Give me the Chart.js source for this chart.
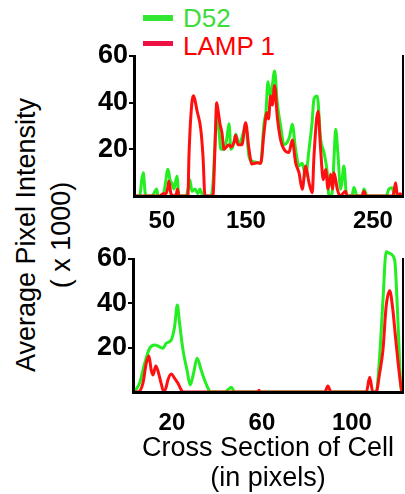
<!DOCTYPE html>
<html><head><meta charset="utf-8">
<script src="https://cdn.jsdelivr.net/npm/chart.js@4.4.1/dist/chart.umd.min.js"></script>
<style>
html,body{margin:0;padding:0;background:#fff;width:405px;height:494px;overflow:hidden;position:relative;font-family:"Liberation Sans",Arial,sans-serif;}
#c1{position:absolute;left:0;top:0;}
#c2{position:absolute;left:0;top:240px;}
.lg-line{position:absolute;left:143px;width:30px;}
.lg-text{position:absolute;left:183px;font-size:26px;line-height:26px;white-space:nowrap;}
#ytitle{position:absolute;left:44px;top:235px;width:330px;transform:translate(-50%,-50%) rotate(-90deg);text-align:center;font-size:27px;line-height:35px;color:#000;white-space:nowrap;}
</style></head><body>
<div class="lg-line" style="top:15px;height:6px;background:#33e633;"></div>
<div class="lg-text" style="top:5px;color:#3ddc3d;">D52</div>
<div class="lg-line" style="top:41px;height:5px;background:#ee1144;"></div>
<div class="lg-text" style="top:33px;color:#ff0000;">LAMP 1</div>
<div id="ytitle">Average Pixel Intensity<br>( x 1000)</div>
<canvas id="c1" width="405" height="240"></canvas>
<canvas id="c2" width="405" height="254"></canvas>
<script>
// ---------- DATA ----------
const seriesNames = ['D52', 'LAMP 1'];
const yTickValues = [20, 40, 60];

// Top panel
const topXTickPos = [50, 129.6, 250];
const topXTickLabels = ['50', '150', '250'];
const topGreenX = [23.5,29.1,30.6,32.3,33.9,34.8,40.5,43.4,45.0,46.2,50.9,52.8,55.7,57.6,59.5,61.4,64.2,66.1,72.8,75.6,76.5,78.4,81.3,84.1,86.0,88.9,96.5,98.3,102.1,104.0,105.9,108.8,111.6,113.5,115.4,117.8,119.9,123.0,125.8,129.3,132.5,135.3,139.1,143.6,146.7,148.6,150.5,153.0,154.3,156.8,159.3,162.5,165.7,168.8,171.3,173.5,176.7,179.9,183.0,186.2,189.4,192.2,194.1,197.2,200.4,203.6,206.7,208.3,211.2,213.1,214.7,216.8,219.4,220.6,222.5,225.1,230.1,232.0,234.9,239.6,241.5,244.4,262.4,265.2,268.0,270.9,278.5];
const topGreenY = [0,0,6,10,2,0,0,2,3,0,0,4,11.5,7,5.5,3,8.5,0,0,5,7,2,3,1,3,0,0,5,34,28,20,20,25,31,20,22,26.5,22,25,30,17,15,14.5,14,31,36,49,42,46,53.6,40,30,22,23,26,30.7,20,12.9,14,8.6,20,31,41.6,42.9,24.3,18.6,10,0,1,16,28.6,18,2.9,6,12.9,0,0,3.6,0,0,3,0,0,3,3.5,0,0];
const topRedX = [23.5,48.1,50.9,53.8,55.7,56.6,58.5,61.4,63.7,64.7,66.1,74.6,75.6,77.5,79.7,83.5,86.7,88.9,90.8,98.3,100.2,101.9,103.1,105.0,106.9,108.8,113.5,115.4,118.3,119.9,122.0,125.8,129.3,132.5,135.3,140.1,143.6,146.7,149.5,151.0,153.0,154.7,156.8,159.3,162.5,165.7,170.4,173.5,176.7,179.9,183.0,186.2,189.4,192.5,194.1,197.9,200.4,202.9,205.2,207.4,209.9,211.6,213.1,216.2,218.7,224.1,225.4,239.6,241.5,243.4,269.0,271.5,273.2,275.6,278.5];
const topRedY = [0,0,1,1,4,6.4,1,0,1,3,0,0,17,35,43,36,29,17,0,0,20,40,37,31,27,20,22,21,23,26,22,22,31.4,20,13.7,14.3,14,27,35.7,33,42.9,39,47.4,34,24,20,18.6,24,14.3,10,2.9,12.9,5.7,1.4,17,36.4,20,7,11.4,3,9.3,3,10,3,0,2,0,0,2,0,0,5.7,0,1,0];

// Bottom panel
const botXTickPos = [20, 60, 100];
const botXTickLabels = ['20', '60', '100'];
const botGreenX = [2.7,4.1,5.6,7.9,10.1,12.3,14.5,16.0,17.5,19.7,21.2,22.4,23.4,24.9,26.7,28.1,29.6,31.2,33.0,34.5,36.4,37.0,43.4,44.9,46.4,47.9,110.8,112.3,113.8,115.2,116.8,119.0,119.7,120.8,121.6,122.2];
const botGreenY = [0,1.2,3.9,13,19.7,21.2,20.4,19.7,22,23.5,29.5,39.2,31,19,9.9,3.2,8.4,15.2,9.9,5.4,0.9,0,0,1,2.1,0,0,15.9,41.5,63.3,62.5,59.5,49,23.4,3.9,0];
const botRedX = [2.7,4.9,7.1,8.6,9.8,10.8,11.6,12.8,13.8,15.2,16.4,17.5,18.2,19.7,21.2,22.7,24.1,24.9,58.2,58.7,59.1,88.0,89.3,90.7,106.4,107.9,109.3,110.8,112.3,113.8,115.2,116.8,118.2,119.2,120.4,121.6,122.2];
const botRedY = [0,0,3.9,13,16.2,9.9,7.7,11.7,9.5,3.9,0,2.4,5.4,8.1,6.2,3.9,1,0,0,0.8,0,0,2.7,0,0,6.6,0,0,8.4,19,38.5,45.7,37,26.5,14.4,3.9,0];

// ---------- CHART ----------
const GREEN = '#22ee22', RED = '#ff1010';
const FONT = '"Liberation Sans", Arial, sans-serif';
const pts = (xs, ys) => xs.map((x, i) => ({x: x, y: ys[i]}));

function makeChart(id, cfg) {
  const ds = (label, xs, ys, color, order) => ({
    label, data: pts(xs, ys), borderColor: color, backgroundColor: color,
    borderWidth: 3, pointRadius: 0, cubicInterpolationMode: 'monotone',
    fill: false, clip: false, order
  });
  return new Chart(document.getElementById(id), {
    type: 'line',
    data: { datasets: [
      ds(seriesNames[1], cfg.redX, cfg.redY, RED, 1),
      ds(seriesNames[0], cfg.greenX, cfg.greenY, GREEN, 2)
    ]},
    options: {
      responsive: false, animation: false, devicePixelRatio: 1,
      layout: { padding: { left: 0, right: 0, top: cfg.padTop, bottom: 0 } },
      plugins: { legend: { display: false }, tooltip: { enabled: false } },
      scales: {
        x: {
          type: 'linear', min: cfg.xMin, max: cfg.xMax,
          afterBuildTicks: s => { s.ticks = cfg.xTicks.map(v => ({value: v})); },
          afterFit: s => { s.height = cfg.xH; },
          ticks: { autoSkip: false, maxRotation: 0, color: '#000', padding: cfg.xPad,
                   font: { family: FONT, size: 24, weight: 'bold' },
                   callback: (v, i) => cfg.xLabels[i] },
          grid: { display: false },
          border: { display: true, color: '#000', width: 3, z: 1 },
          title: cfg.xTitle ? { display: true, text: cfg.xTitle, color: '#000',
                   font: { family: FONT, size: 27, lineHeight: 30/27 }, padding: { top: 0, bottom: 0 } } : { display: false }
        },
        y: {
          min: 0, max: 60,
          afterBuildTicks: s => { s.ticks = yTickValues.map(v => ({value: v})); },
          afterFit: s => { s.width = cfg.yW; },
          ticks: { color: '#000', padding: 1, font: { family: FONT, size: 27, weight: 'bold' } },
          grid: { drawOnChartArea: false, drawTicks: true, tickLength: 5, color: '#000', lineWidth: 2 },
          border: { display: true, color: '#000', width: 3, z: 1 }
        },
        y2: {
          position: 'right', min: 0, max: 60,
          afterFit: s => { s.width = 2; },
          ticks: { display: false },
          grid: { display: false },
          border: { display: true, color: '#000', width: 2, z: 1 }
        }
      }
    }
  });
}

makeChart('c1', {
  greenX: topGreenX, greenY: topGreenY, redX: topRedX, redY: topRedY,
  xMin: 23.5, xMax: 278.5, xTicks: topXTickPos, xLabels: topXTickLabels,
  padTop: 56, xH: 44, yW: 134, xPad: 3, xTitle: null
});
makeChart('c2', {
  greenX: botGreenX, greenY: botGreenY, redX: botRedX, redY: botRedY,
  xMin: 2.7, xMax: 122.7, xTicks: botXTickPos, xLabels: botXTickLabels,
  padTop: 19, xH: 102, yW: 133, xPad: 9, xTitle: ['Cross Section of Cell', '(in pixels)']
});
</script>
</body></html>
